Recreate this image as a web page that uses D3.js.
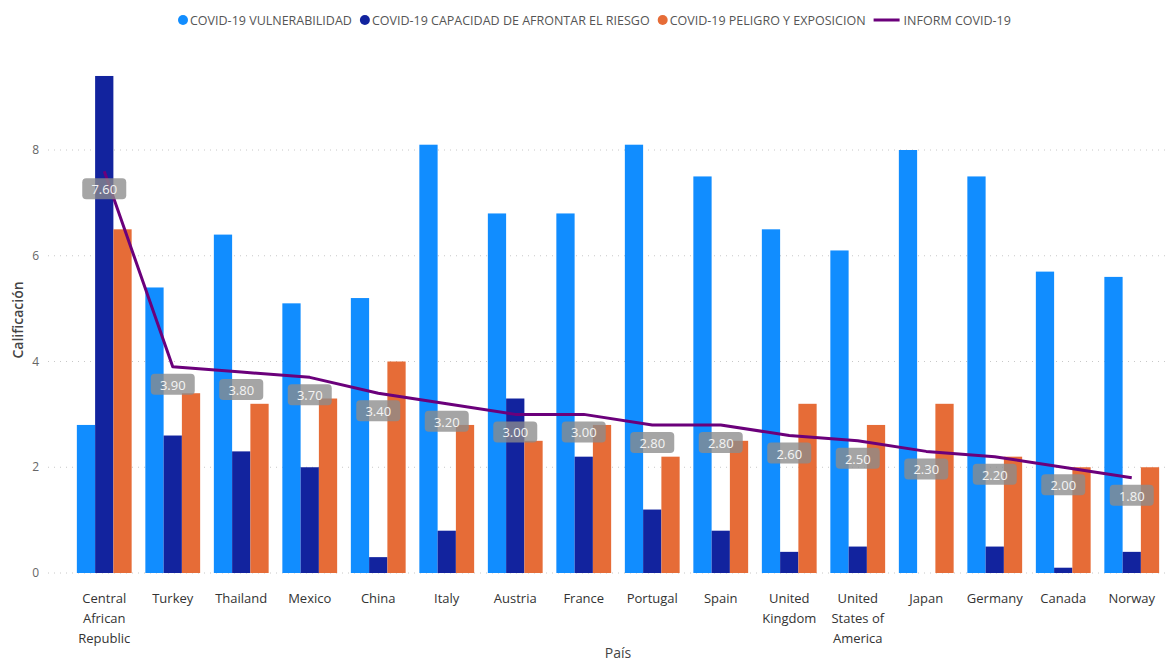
<!DOCTYPE html>
<html lang="es">
<head>
<meta charset="UTF-8">
<title>INFORM COVID-19</title>
<script src="https://cdn.jsdelivr.net/npm/d3@7"></script>
<style>
    body { margin:0; background:#fff; }
    svg { font-family: "Segoe UI", "Open Sans", "Noto Sans", sans-serif; }
    .grid line { stroke:#c8c8c8; stroke-dasharray:1,5; }
    .ytick { fill:#666; font-size:12px; text-anchor:end; }
    .xlab { fill:#333; font-size:13px; text-anchor:middle; }
    .legend text { fill:#555; font-size:12.5px; }
    .lbl text { fill:#f4f4f4; font-size:13px; text-anchor:middle; }
</style>
</head>
<body>
<script>
// datos
var paises = ["Central African Republic","Turkey","Thailand","Mexico","China","Italy","Austria","France",
              "Portugal","Spain","United Kingdom","United States of America","Japan","Germany","Canada","Norway"];
var vulnerabilidad = [2.8,5.4,6.4,5.1,5.2,8.1,6.8,6.8,8.1,7.5,6.5,6.1,8.0,7.5,5.7,5.6];
var capacidad      = [9.4,2.6,2.3,2.0,0.3,0.8,3.3,2.2,1.2,0.8,0.4,0.5,0.0,0.5,0.1,0.4];
var peligro        = [6.5,3.4,3.2,3.3,4.0,2.8,2.5,2.8,2.2,2.5,3.2,2.8,3.2,2.2,2.0,2.0];
var inform         = [7.6,3.9,3.8,3.7,3.4,3.2,3.0,3.0,2.8,2.8,2.6,2.5,2.3,2.2,2.0,1.8];
// etiquetas partidas en lineas como en el original
var etiquetas = [["Central","African","Republic"],["Turkey"],["Thailand"],["Mexico"],["China"],["Italy"],
                 ["Austria"],["France"],["Portugal"],["Spain"],["United","Kingdom"],["United","States of","America"],
                 ["Japan"],["Germany"],["Canada"],["Norway"]];
var yTicks = [0,2,4,6,8];
var series = ["COVID-19 VULNERABILIDAD","COVID-19 CAPACIDAD DE AFRONTAR EL RIESGO","COVID-19 PELIGRO Y EXPOSICION"];
var lineName = "INFORM COVID-19";
var colores = ["#118DFF","#12239E","#E66C37"];
var colorLinea = "#6B007B";

var W = 1172, H = 662;
var svg = d3.select("body").append("svg").attr("width",W).attr("height",H);

var x0 = d3.scaleBand().domain(paises).range([70,1166]).paddingInner(0.2).paddingOuter(0.1);
var x1 = d3.scaleBand().domain(d3.range(3)).range([0,x0.bandwidth()]);
var y = d3.scaleLinear().domain([0,8]).range([573,150]);

// rejilla
var grid = svg.append("g").attr("class","grid");
grid.selectAll("line").data(yTicks).enter().append("line")
    .attr("x1",48).attr("x2",1166)
    .attr("y1",d => y(d)).attr("y2",d => y(d));
svg.append("g").selectAll("text").data(yTicks).enter().append("text")
    .attr("class","ytick")
    .attr("x",39).attr("y",d => y(d)+4)
    .text(d => d);

svg.append("text")
    .attr("transform","translate(23,320) rotate(-90)")
    .attr("text-anchor","middle")
    .style("font-size","14px").style("fill","#444").style("font-weight","600")
    .text("Calificación");

// barras
var datos = [vulnerabilidad, capacidad, peligro];
var grupos = svg.append("g").selectAll("g").data(paises).enter().append("g")
    .attr("transform",d => "translate(" + x0(d) + ",0)");
grupos.selectAll("rect").data((d,i) => datos.map((s,k) => ({k:k, v:s[i]}))).enter().append("rect")
    .attr("x",d => x1(d.k))
    .attr("width",x1.bandwidth())
    .attr("y",d => y(d.v))
    .attr("height",d => y(0) - y(d.v))
    .attr("fill",d => colores[d.k]);

// linea INFORM
var cx = d => x0(d) + x0.bandwidth()/2;
var linea = d3.line().x((d,i) => cx(paises[i])).y(d => y(d));
svg.append("path").datum(inform)
    .attr("d",linea)
    .attr("fill","none")
    .attr("stroke",colorLinea)
    .attr("stroke-width",3)
    .attr("stroke-linejoin","round");

// etiquetas de datos
var lbl = svg.append("g").attr("class","lbl").selectAll("g").data(inform).enter().append("g")
    .attr("transform",(d,i) => "translate(" + cx(paises[i]) + "," + (y(d)+18) + ")");
lbl.append("rect")
    .attr("x",-22).attr("y",-11).attr("width",44).attr("height",21).attr("rx",4)
    .attr("fill","#8c8c8c").attr("fill-opacity",0.78);
lbl.append("text").attr("y",5).text(d => d.toFixed(2));

// eje x
var xl = svg.append("g").selectAll("text").data(paises).enter().append("text")
    .attr("class","xlab")
    .attr("x",d => cx(d)).attr("y",603);
xl.selectAll("tspan").data((d,i) => etiquetas[i]).enter().append("tspan")
    .attr("x",function(){ return this.parentNode.getAttribute("x"); })
    .attr("dy",(d,i) => i ? 20 : 0)
    .text(d => d);
svg.append("text")
    .attr("x",618).attr("y",658).attr("text-anchor","middle")
    .style("font-size","14px").style("fill","#444")
    .text("País");

// leyenda
var leg = svg.append("g").attr("class","legend");
var lx = 178;
series.forEach(function(s,i){
    leg.append("circle").attr("cx",lx+5).attr("cy",20).attr("r",5).attr("fill",colores[i]);
    var t = leg.append("text").attr("x",lx+12).attr("y",24.5).text(s);
    lx += 12 + t.node().getComputedTextLength() + 8;
});
leg.append("line").attr("x1",lx).attr("x2",lx+26).attr("y1",20).attr("y2",20)
    .attr("stroke",colorLinea).attr("stroke-width",3);
leg.append("text").attr("x",lx+30).attr("y",24.5).text(lineName);
</script>
</body>
</html>
